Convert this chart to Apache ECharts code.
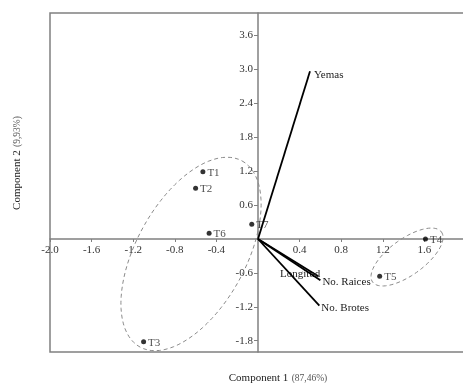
<!DOCTYPE html>
<html>
<head>
<meta charset="utf-8">
<script src="https://cdn.jsdelivr.net/npm/echarts@6/dist/echarts.min.js"></script>
<style>
	html, body { margin: 0; padding: 0; background: #fff; }
	#biplot { width: 463px; height: 383px; }
</style>
</head>
<body>
<div id="biplot"></div>
<script>
// tratamientos (scores)
var pointNames = ['T1', 'T2', 'T3', 'T4', 'T5', 'T6', 'T7'];
var pointX = [-0.53, -0.60, -1.10, 1.61, 1.17, -0.47, -0.06];
var pointY = [1.19, 0.90, -1.82, 0.00, -0.66, 0.10, 0.26];

// variables (loadings)
var vectorNames = ['Yemas', 'Longitud', 'No. Raices', 'No. Brotes'];
var vectorX = [0.50, 0.58, 0.60, 0.59];
var vectorY = [2.97, -0.66, -0.73, -1.18];

// grupos: centro, semieje 1, semieje 2
var ellipseCenterX = [-0.644, 1.433];
var ellipseCenterY = [-0.265, -0.319];
var ellipseU = [[0.490, 1.648], [0.331, 0.443]];
var ellipseV = [[0.463, -0.464], [0.102, -0.258]];

var xTicks = [-2.0, -1.6, -1.2, -0.8, -0.4, 0.4, 0.8, 1.2, 1.6];
var yTicks = [-1.8, -1.2, -0.6, 0.6, 1.2, 1.8, 2.4, 3.0, 3.6];

var serif = '"Liberation Serif", "DejaVu Serif", serif';

var gridW = 416, gridH = 339;

// posicion de las etiquetas de los vectores
var vectorLabel = {
	'Yemas': { dx: 4, dy: 4, align: 'left' },
	'Longitud': { dx: 2, dy: -2, align: 'right' },
	'No. Raices': { dx: 2, dy: 2, align: 'left' },
	'No. Brotes': { dx: 2, dy: 2, align: 'left' }
};

var scatterData = [];
for (var i = 0; i < pointNames.length; i++) {
	scatterData.push({ name: pointNames[i], value: [pointX[i], pointY[i]] });
}
var vectorData = [];
for (var i = 0; i < vectorNames.length; i++) {
	vectorData.push({ name: vectorNames[i], value: [vectorX[i], vectorY[i]] });
}
var ellipseData = [];
for (var i = 0; i < ellipseCenterX.length; i++) {
	ellipseData.push([ellipseCenterX[i], ellipseCenterY[i], ellipseU[i][0], ellipseU[i][1], ellipseV[i][0], ellipseV[i][1]]);
}

var myChart = echarts.init(document.getElementById('biplot'));
var option = {
	animation: false,
	grid: {
		left: 50,
		top: 13,
		width: gridW,
		height: gridH,
		outerBoundsMode: 'none',
		show: true,
		borderColor: '#808080',
		borderWidth: 1.5
	},
	xAxis: {
		type: 'value',
		min: -2,
		max: 2,
		// eje en y = 0
		offset: -gridH * 2 / 6,
		splitLine: { show: false },
		axisLine: { onZero: false, lineStyle: { color: '#808080', width: 1.5 } },
		axisTick: { show: true, length: 3, customValues: xTicks, lineStyle: { color: '#808080' } },
		axisLabel: {
			customValues: xTicks,
			margin: 6,
			fontFamily: serif,
			fontSize: 11,
			color: '#333',
			formatter: function (v) { return v.toFixed(1); }
		}
	},
	yAxis: {
		type: 'value',
		min: -2,
		max: 4,
		// eje en x = 0
		offset: -gridW * 2 / 4,
		splitLine: { show: false },
		axisLine: { onZero: false, lineStyle: { color: '#808080', width: 1.5 } },
		axisTick: { show: true, length: 4, customValues: yTicks, lineStyle: { color: '#808080' } },
		axisLabel: {
			customValues: yTicks,
			margin: 5,
			fontFamily: serif,
			fontSize: 11,
			color: '#333',
			formatter: function (v) { return v.toFixed(1); }
		}
	},
	graphic: [{
		type: 'text',
		x: 278,
		y: 378,
		style: {
			text: '{a|Component 1} {b|(87,46%)}',
			align: 'center',
			verticalAlign: 'middle',
			rich: {
				a: { fontFamily: serif, fontSize: 11, fill: '#222' },
				b: { fontFamily: serif, fontSize: 9.5, fill: '#555' }
			}
		}
	}, {
		type: 'text',
		x: 17,
		y: 163,
		rotation: Math.PI / 2,
		style: {
			text: '{a|Component 2} {b|(9,93%)}',
			align: 'center',
			verticalAlign: 'middle',
			rich: {
				a: { fontFamily: serif, fontSize: 11, fill: '#222' },
				b: { fontFamily: serif, fontSize: 9.5, fill: '#555' }
			}
		}
	}],
	series: [{
		// elipses de agrupamiento
		type: 'custom',
		encode: { x: 0, y: 1 },
		data: ellipseData,
		z: 1,
		renderItem: function (params, api) {
			var cx = api.value(0), cy = api.value(1);
			var ux = api.value(2), uy = api.value(3);
			var vx = api.value(4), vy = api.value(5);
			var pts = [];
			for (var k = 0; k < 90; k++) {
				var t = k / 90 * Math.PI * 2;
				pts.push(api.coord([cx + ux * Math.cos(t) + vx * Math.sin(t), cy + uy * Math.cos(t) + vy * Math.sin(t)]));
			}
			return {
				type: 'polygon',
				shape: { points: pts },
				style: { fill: 'none', stroke: '#8a8a8a', lineWidth: 1, lineDash: [4, 3] }
			};
		}
	}, {
		// vectores
		type: 'custom',
		encode: { x: 0, y: 1 },
		data: vectorData,
		z: 3,
		renderItem: function (params, api) {
			var name = vectorNames[params.dataIndex];
			var lab = vectorLabel[name];
			var p0 = api.coord([0, 0]);
			var p1 = api.coord([api.value(0), api.value(1)]);
			return {
				type: 'group',
				children: [{
					type: 'line',
					shape: { x1: p0[0], y1: p0[1], x2: p1[0], y2: p1[1] },
					style: { stroke: '#000', lineWidth: 1.8 }
				}, {
					type: 'text',
					x: p1[0] + lab.dx,
					y: p1[1] + lab.dy,
					style: {
						text: name,
						align: lab.align,
						verticalAlign: 'middle',
						fontFamily: serif,
						fontSize: 11,
						fill: '#222'
					}
				}]
			};
		}
	}, {
		type: 'scatter',
		data: scatterData,
		symbolSize: 5,
		z: 4,
		itemStyle: { color: '#000' },
		label: {
			show: true,
			position: 'right',
			distance: 2,
			formatter: '{b}',
			fontFamily: serif,
			fontSize: 11,
			color: '#222',
			offset: [0, 1]
		}
	}]
};
myChart.setOption(option);
</script>
</body>
</html>
